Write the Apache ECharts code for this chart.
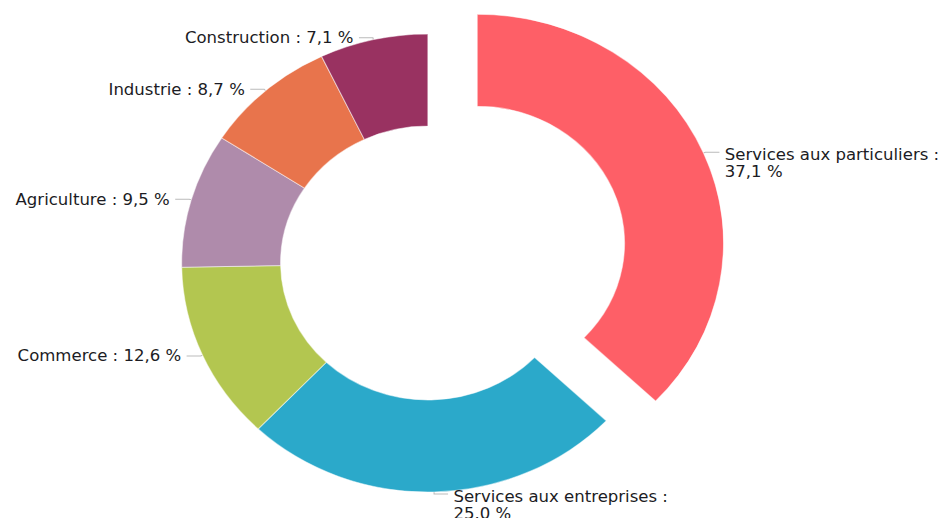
<!DOCTYPE html>
<html>
<head>
<meta charset="utf-8">
<script src="https://cdn.jsdelivr.net/npm/echarts@6/dist/echarts.min.js"></script>
<style>
html, body { margin: 0; padding: 0; background: #fff; overflow: hidden; width: 942px; height: 518px; }
/* the reference donut is slightly wider than tall, so the chart is stretched a bit */
#main { position: absolute; left: 0; top: 0; width: 900px; height: 518px; transform: scaleX(1.075); transform-origin: 0 0; }
</style>
</head>
<body>
<div id="main"></div>
<script>
const categories = ['Services aux particuliers', 'Services aux entreprises', 'Commerce', 'Agriculture', 'Industrie', 'Construction'];
const shares = [37.1, 25.0, 12.6, 9.5, 8.7, 7.1];
const shareLabels = ['37,1 %', '25.0 %', '12,6 %', '9,5 %', '8,7 %', '7,1 %'];
const colors = ['#fe5f67', '#2ba9ca', '#b3c650', '#af8bab', '#e8744c', '#993261'];
const pulledOut = 'Services aux particuliers';

const myChart = echarts.init(document.getElementById('main'), null, { renderer: 'svg' });

// long names go on two lines, value under the name
const isLong = (name) => name.length > 20;

const data = categories.map((name, i) => ({
    name: name,
    value: shares[i],
    selected: name === pulledOut,
    itemStyle: { color: colors[i] }
}));

const txt = { fontFamily: 'DejaVu Sans', fontSize: 15.4, lineHeight: 17, color: '#1c1c24' };

myChart.setOption({
    animation: false,
    series: [
        {
            type: 'pie',
            center: [398, 263],
            radius: [137, 229],
            startAngle: 90,
            clockwise: true,
            selectedMode: 'single',
            selectedOffset: 50,
            avoidLabelOverlap: false,
            label: Object.assign({
                show: true,
                position: 'outside',
                bleedMargin: 0,
                // an empty spacer line on top so the name lines up with the label line
                formatter: (p) => isLong(p.name)
                    ? '{gap| }\n{t|' + p.name + ' :}\n{t|' + shareLabels[p.dataIndex] + '}'
                    : p.name + ' : ' + shareLabels[p.dataIndex],
                rich: {
                    gap: { fontSize: 4, lineHeight: 22 },
                    t: Object.assign({}, txt)
                }
            }, txt),
            labelLine: {
                show: true,
                length: 2,
                length2: 13,
                lineStyle: { color: '#bbb', width: 1 }
            },
            itemStyle: {
                borderColor: 'rgba(255,255,255,0.5)',
                borderWidth: 1
            },
            emphasis: { disabled: true },
            data: data
        }
    ]
});
</script>
</body>
</html>
